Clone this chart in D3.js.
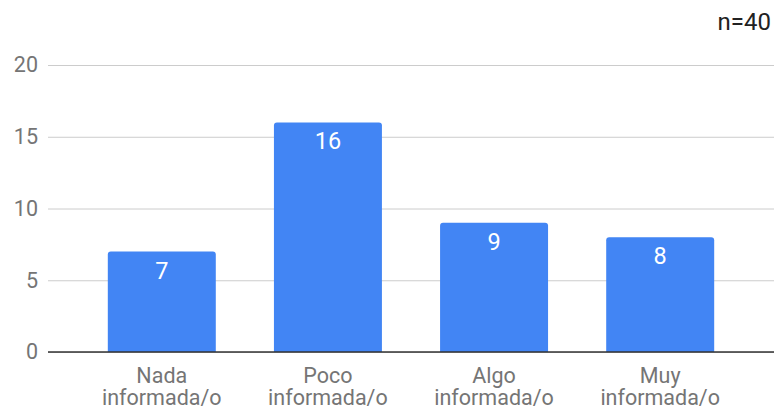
<!DOCTYPE html>
<html>
<head>
<meta charset="utf-8">
<script src="https://cdn.jsdelivr.net/npm/d3@7"></script>
<style>
  body { margin: 0; background: #fff; }
  text { font-family: Roboto, "Noto Sans", sans-serif; }
</style>
</head>
<body>
<div id="chart"></div>
<script>
// chart data
const categories = ['Nada informada/o', 'Poco informada/o', 'Algo informada/o', 'Muy informada/o'];
const values = [7, 16, 9, 8];
const yTicks = [0, 5, 10, 15, 20];
const sampleNote = 'n=40';

const width = 774, height = 407;
const margin = { top: 65, right: 0, bottom: 55, left: 48 };

const svg = d3.select('#chart')
    .append('svg')
    .attr('width', width)
    .attr('height', height);

const x = d3.scaleBand()
    .domain(categories)
    .range([margin.left, width - margin.right])
    .paddingInner(0.35)
    .paddingOuter(0.36);

const y = d3.scaleLinear()
    .domain([0, 20])
    .range([height - margin.bottom, margin.top]);

// grid lines
svg.append('g')
    .attr('class', 'grid')
    .attr('transform', 'translate(' + margin.left + ',0)')
    .call(d3.axisLeft(y).tickValues(yTicks).tickSize(-(width - margin.left - margin.right)).tickFormat(''))
    .call(g => g.select('.domain').remove())
    .selectAll('line')
    .attr('stroke', '#cccccc')
    .attr('stroke-width', 1);

// y tick labels
svg.append('g')
    .attr('transform', 'translate(' + margin.left + ',0)')
    .call(d3.axisLeft(y).tickValues(yTicks).tickSize(0).tickPadding(10))
    .call(g => g.select('.domain').remove())
    .selectAll('text')
    .attr('fill', '#757575')
    .style('font-size', '21.5px');

// bars with rounded tops
const r = 3;
svg.selectAll('path.bar')
    .data(values)
    .enter()
    .append('path')
    .attr('class', 'bar')
    .attr('fill', '#4285f4')
    .attr('d', function (d, i) {
        const x0 = x(categories[i]), w = x.bandwidth();
        const y0 = y(d), y1 = y(0);
        return 'M' + x0 + ',' + y1 +
            'V' + (y0 + r) +
            'Q' + x0 + ',' + y0 + ' ' + (x0 + r) + ',' + y0 +
            'H' + (x0 + w - r) +
            'Q' + (x0 + w) + ',' + y0 + ' ' + (x0 + w) + ',' + (y0 + r) +
            'V' + y1 + 'Z';
    });

// value labels inside bars
svg.selectAll('text.value')
    .data(values)
    .enter()
    .append('text')
    .attr('class', 'value')
    .attr('x', (d, i) => x(categories[i]) + x.bandwidth() / 2)
    .attr('y', d => y(d) + 27)
    .attr('text-anchor', 'middle')
    .attr('fill', '#ffffff')
    .style('font-size', '23.5px')
    .text(d => d);

// baseline
svg.append('line')
    .attr('x1', margin.left)
    .attr('x2', width - margin.right)
    .attr('y1', y(0))
    .attr('y2', y(0))
    .attr('stroke', '#333333')
    .attr('stroke-width', 1.5);

// category labels, two lines
const catLabels = svg.selectAll('text.cat')
    .data(categories)
    .enter()
    .append('text')
    .attr('class', 'cat')
    .attr('text-anchor', 'middle')
    .attr('fill', '#757575')
    .style('font-size', '21.5px');

catLabels.each(function (d) {
    const parts = d.split(' ');
    const cx = x(d) + x.bandwidth() / 2;
    d3.select(this).selectAll('tspan')
        .data(parts)
        .enter()
        .append('tspan')
        .attr('x', cx)
        .attr('y', (p, j) => y(0) + 31 + j * 22)
        .text(p => p);
});

// sample size note
svg.append('text')
    .attr('x', 771)
    .attr('y', 30)
    .attr('text-anchor', 'end')
    .attr('fill', '#222222')
    .style('font-size', '24px')
    .text(sampleNote);
</script>
</body>
</html>
